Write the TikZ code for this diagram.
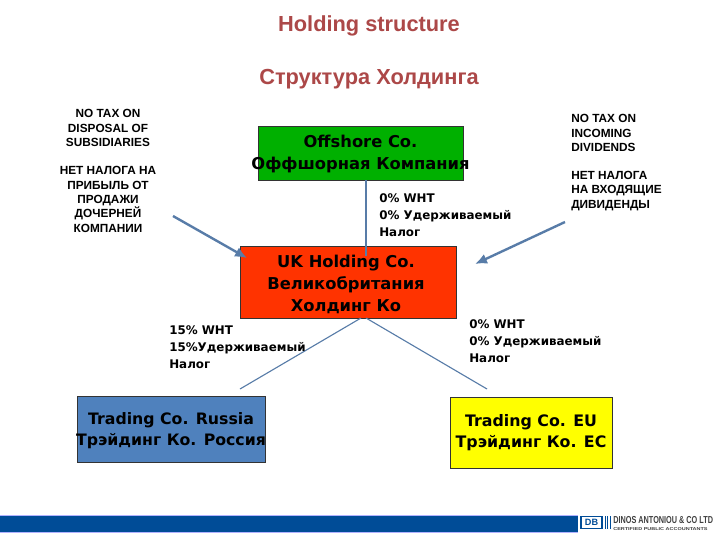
\documentclass[tikz,border=0pt]{standalone}
\usepackage{fontspec}
\usetikzlibrary{arrows.meta}
\setmainfont{Liberation Sans}
\newfontfamily\boxfont{DejaVu Sans}
\definecolor{linkblue}{RGB}{88,124,168}
\definecolor{bandblue}{RGB}{0,76,151}
\definecolor{titlered}{RGB}{172,72,72}
\definecolor{offgreen}{RGB}{0,176,0}
\definecolor{ukred}{RGB}{255,51,0}
\definecolor{rublue}{RGB}{79,129,189}
\definecolor{euyellow}{RGB}{255,255,0}
\begin{document}
\begin{tikzpicture}[x=0.025cm,y=-0.025cm]
	\tikzstyle{company}=[draw=black!80,inner sep=0pt]
	\tikzstyle{caption}=[align=center,inner sep=0pt,font=\boxfont\bfseries\fontsize{11.6}{15.4}\selectfont]
	\tikzstyle{note}=[align=center,font=\bfseries\fontsize{8.4}{10.2}\selectfont]
	\tikzstyle{rate}=[align=left,inner sep=0pt,anchor=west,font=\boxfont\bfseries\fontsize{8.45}{12.2}\selectfont]
	\tikzstyle{heading}=[text=titlered,font=\bfseries\fontsize{15.5}{17}\selectfont]
	\tikzstyle{link}=[draw=linkblue,line width=0.8pt]
	\tikzstyle{push}=[draw=linkblue,line width=1.7pt,-{Latex[length=3mm,width=2.6mm]}]

	\path[use as bounding box] (0,0) rectangle (720,540);

	\node[heading](title) at (369,26){Holding structure};
	\node[heading](subtitle) at (369,79){Структура Холдинга};

	\node[company,fill=offgreen,minimum width=5.125cm,minimum height=1.35cm](offshore) at (360.5,153){};
	\node[company,fill=ukred,minimum width=5.4cm,minimum height=1.8cm](uk) at (348,282){};
	\node[company,fill=rublue,minimum width=4.7cm,minimum height=1.65cm](russia) at (171,429.5){};
	\node[company,fill=euyellow,minimum width=4.05cm,minimum height=1.775cm](eu) at (531,432.5){};

	\coordinate (offout) at (366,180);
	\coordinate (ukin) at (366,256);
	\coordinate (ruend) at (240,389);
	\coordinate (euend) at (487,389);
	\coordinate (ukl) at (361,318);
	\coordinate (ukr) at (366,318);
	\coordinate (lfrom) at (173,216);
	\coordinate (lto) at (247,258);
	\coordinate (rfrom) at (565,222);
	\coordinate (rto) at (475,264);

	\draw[link] (offout) -- (ukin);
	\draw[link] (ukl) -- (ruend);
	\draw[link] (ukr) -- (euend);
	\draw[push] (lfrom) -- (lto);
	\draw[push] (rfrom) -- (rto);

	\node[caption](offtext) at (360.5,154){Offshore Co.\\Оффшорная Компания};
	\node[caption](uktext) at (346,284.5){UK Holding Co.\\Великобритания\\Холдинг Ко};
	\node[caption,font=\boxfont\bfseries\fontsize{11.2}{15.4}\selectfont](rutext) at (171,430.5){Trading Co. Russia\\Трэйдинг Ко. Россия};
	\node[caption,font=\boxfont\bfseries\fontsize{11.25}{15.4}\selectfont](eutext) at (531,432.5){Trading Co. EU\\Трэйдинг Ко. ЕС};

	\node[note](lefttop) at (108,128){NO TAX ON\\DISPOSAL OF\\SUBSIDIARIES};
	\node[note](leftlow) at (108,199.5){НЕТ НАЛОГА НА\\ПРИБЫЛЬ ОТ\\ПРОДАЖИ\\ДОЧЕРНЕЙ\\КОМПАНИИ};
	\node[note,align=left,anchor=west,inner sep=0pt](righttop) at (571,133){NO TAX ON\\INCOMING\\DIVIDENDS};
	\node[note,align=left,anchor=west,inner sep=0pt](rightlow) at (571,191){НЕТ НАЛОГА\\НА ВХОДЯЩИЕ\\ДИВИДЕНДЫ};

	\node[rate](rate1) at (379,215){0\% WHT\\0\% Удерживаемый\\Налог};
	\node[rate](rate2) at (169,347){15\% WHT\\15\%Удерживаемый\\Налог};
	\node[rate](rate3) at (469,341){0\% WHT\\0\% Удерживаемый\\Налог};

	\fill[bandblue] (0,515) rectangle (578,532);
	\draw[blue!30,line width=0.5pt] (0,515) -- (578,515) (0,532) -- (578,532);

	\node[draw=bandblue,line width=1pt,fill=white,minimum width=0.52cm,minimum height=0.3cm,inner sep=0pt,font=\bfseries\fontsize{6.5}{7}\selectfont,text=bandblue](logo) at (591.5,522.5){DB};
	\draw[bandblue,line width=0.6pt] (605,516) -- (605,529) (607.5,516) -- (607.5,529) (610,516) -- (610,529);
	\node[anchor=west,inner sep=0pt,font=\bfseries\fontsize{7.2}{8}\selectfont,text=black!75](logotext) at (613,520.5){\scalebox{0.72}[1]{DINOS ANTONIOU \& CO LTD}};
	\node[anchor=west,inner sep=0pt,font=\bfseries\fontsize{3}{4}\selectfont,text=black!75](logosub) at (613,529){\scalebox{1.3}[1]{CERTIFIED PUBLIC ACCOUNTANTS}};
\end{tikzpicture}
\end{document}
